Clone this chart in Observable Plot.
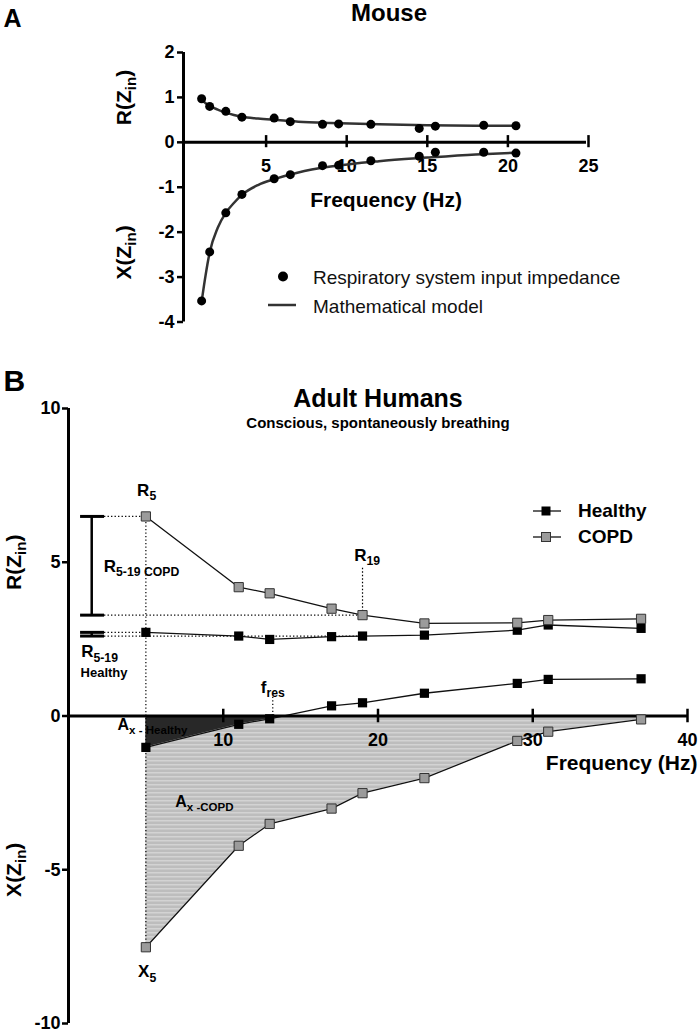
<!DOCTYPE html>
<html><head><meta charset="utf-8">
<script src="https://cdn.jsdelivr.net/npm/d3@7"></script>
<script src="https://cdn.jsdelivr.net/npm/@observablehq/plot@0.6"></script>
<style>
body{margin:0;background:#fff;width:700px;height:1033px;position:relative;overflow:hidden;font-family:"Liberation Sans",Arial,sans-serif}
#a{position:absolute;left:0;top:0}
#b{position:absolute;left:0;top:340px}
svg{overflow:visible}
</style></head><body>
<div id="a"></div><div id="b"></div>
<script>
// ---------- Panel A: Mouse ----------
const mouseFreq = [1, 1.5, 2.5, 3.5, 5.5, 6.5, 8.5, 9.5, 11.5, 14.5, 15.5, 18.5, 20.5];
const mouseR    = [0.97, 0.80, 0.69, 0.56, 0.54, 0.46, 0.40, 0.41, 0.40, 0.31, 0.36, 0.38, 0.37];
const mouseX    = [-3.53, -2.44, -1.57, -1.16, -0.81, -0.72, -0.52, -0.51, -0.41, -0.31, -0.22, -0.22, -0.24];
const modelFreq = [1, 1.25, 1.5, 2, 2.5, 3, 3.5, 4.5, 5.5, 7, 9, 12, 15, 18, 20.5];
const modelR    = [0.95, 0.87, 0.81, 0.73, 0.66, 0.61, 0.57, 0.53, 0.50, 0.46, 0.43, 0.40, 0.38, 0.37, 0.37];
const modelX    = [-3.55, -2.95, -2.45, -1.90, -1.57, -1.35, -1.17, -0.95, -0.82, -0.67, -0.54, -0.42, -0.34, -0.27, -0.23];
const xTicksA = [5, 10, 15, 20, 25];
const yTicksA = [-4, -3, -2, -1, 0, 1, 2];

// ---------- Panel B: Adult humans ----------
const humanFreq = [5, 11, 13, 17, 19, 23, 29, 31, 37];
const copdR     = [6.49, 4.19, 3.99, 3.49, 3.28, 3.01, 3.03, 3.12, 3.16];
const healthyR  = [2.72, 2.60, 2.49, 2.58, 2.60, 2.63, 2.79, 2.96, 2.85];
const healthyX  = [-1.02, -0.27, -0.09, 0.33, 0.43, 0.74, 1.06, 1.19, 1.21];
const copdX     = [-7.52, -4.22, -3.51, -3.01, -2.51, -2.02, -0.81, -0.51, -0.11];
const fres = 13.2;
const xTicksB = [10, 20, 30, 40];
const yTicksB = [-10, -5, 0, 5, 10];

const FONT = '"Liberation Sans", Arial, sans-serif';

const mouse = mouseFreq.map((f, i) => ({f, r: mouseR[i], x: mouseX[i]}));
const model = modelFreq.map((f, i) => ({f, r: modelR[i], x: modelX[i]}));
const human = humanFreq.map((f, i) => ({f, copdR: copdR[i], healthyR: healthyR[i], healthyX: healthyX[i], copdX: copdX[i]}));

// healthy reactance below zero (area up to the zero crossing)
const healthyNeg = [];
for (let i = 0; i < human.length; i++) {
  const d = human[i];
  if (d.healthyX <= 0) healthyNeg.push({f: d.f, x: d.healthyX});
  else {
    const p = healthyNeg[healthyNeg.length - 1];
    healthyNeg.push({f: p.f + (0 - p.x) * (d.f - p.f) / (d.healthyX - p.x), x: 0});
    break;
  }
}

function subscripts(svg, scale = 0.72, shift = 0.25) {
  svg.querySelectorAll("text").forEach(t => {
    const s = t.textContent;
    if (!s.includes("_{")) return;
    const fs = parseFloat(getComputedStyle(t).fontSize);
    const parts = [];
    const re = /_\{([^}]*)\}/g;
    let last = 0, m;
    while ((m = re.exec(s))) {
      if (m.index > last) parts.push({t: s.slice(last, m.index), sub: false});
      parts.push({t: m[1], sub: true});
      last = re.lastIndex;
    }
    if (last < s.length) parts.push({t: s.slice(last), sub: false});
    while (t.firstChild) t.removeChild(t.firstChild);
    let inSub = false;
    const ns = "http://www.w3.org/2000/svg";
    for (const p of parts) {
      const ts = document.createElementNS(ns, "tspan");
      ts.textContent = p.t;
      if (p.sub) {
        ts.setAttribute("font-size", fs * scale);
        if (!inSub) ts.setAttribute("dy", fs * shift);
        inSub = true;
      } else {
        if (inSub) ts.setAttribute("dy", -fs * shift);
        inSub = false;
      }
      t.appendChild(ts);
    }
  });
}

// ---------- Plot A ----------
const plotA = Plot.plot({
  width: 700, height: 340,
  marginLeft: 185, marginRight: 112, marginTop: 52, marginBottom: 18.5,
  style: {fontFamily: FONT, color: "#000", background: "transparent"},
  x: {domain: [0, 25], axis: null},
  y: {domain: [-4, 2], axis: null},
  marks: [
    Plot.axisY({ticks: yTicksA, tickFormat: d => String(d), tickSize: 6, tickPadding: 3, strokeWidth: 2.5,
      fontSize: 18, fontWeight: "bold", label: null, dx: -2}),
    Plot.ruleX([0], {y1: -4, y2: 2, strokeWidth: 3, dx: -2}),
    Plot.ruleY([0], {x1: 0, x2: 25, strokeWidth: 3, dx: -2}),
    Plot.ruleX(xTicksA, {x: d => d, y1: -0.12, y2: 0.15, strokeWidth: 2.5}),
    Plot.text(xTicksA, {x: d => d, y: 0, dy: 24, text: d => String(d), fontSize: 18, fontWeight: "bold"}),
    Plot.line(model, {x: "f", y: "r", curve: "monotone-x", stroke: "#333", strokeWidth: 2.5}),
    Plot.line(model, {x: "f", y: "x", curve: "monotone-x", stroke: "#333", strokeWidth: 2.5}),
    Plot.dot(mouse, {x: "f", y: "r", r: 4.5, fill: "#000"}),
    Plot.dot(mouse, {x: "f", y: "x", r: 4.5, fill: "#000"}),
    Plot.text(["Frequency (Hz)"], {x: 12.44, y: 0, dy: 58, text: d => d, fontSize: 21, fontWeight: "bold"}),
    Plot.text(["R(Z_{in})"], {x: 0, y: 1, dx: -61, rotate: -90, text: d => d, fontSize: 21, fontWeight: "bold"}),
    Plot.text(["X(Z_{in})"], {x: 0, y: -2.45, dx: -61, rotate: -90, text: d => d, fontSize: 21, fontWeight: "bold"}),
    Plot.text(["Mouse"], {frameAnchor: "top", dx: 2, dy: -31.3, lineAnchor: "bottom", text: d => d, fontSize: 24, fontWeight: "bold"}),
    Plot.text(["A"], {frameAnchor: "top-left", dx: -182, dy: -26, lineAnchor: "bottom", textAnchor: "start", text: d => d, fontSize: 25, fontWeight: "bold"})
  ]
});
document.getElementById("a").appendChild(plotA);
subscripts(plotA);
{
  const g = d3.select(plotA).append("g").attr("font-family", FONT).attr("text-anchor", "start");
  g.append("circle").attr("cx", 283).attr("cy", 276.5).attr("r", 5).attr("fill", "#000");
  g.append("text").attr("x", 313).attr("y", 284).attr("font-size", 19).attr("fill", "#111").text("Respiratory system input impedance");
  g.append("line").attr("x1", 268).attr("x2", 296).attr("y1", 305).attr("y2", 305).attr("stroke", "#333").attr("stroke-width", 2.5);
  g.append("text").attr("x", 313).attr("y", 313).attr("font-size", 19).attr("fill", "#111").text("Mathematical model");
}

// ---------- Plot B ----------
const dotted = {stroke: "#000", strokeWidth: 1.2, strokeDasharray: "1.3,2.2"};
const capX1 = 0.78, capX2 = 2.33, beamX = 1.5;
const i19 = humanFreq.indexOf(19);
const hLines = [
  {y: copdR[0], x2: 5}, {y: copdR[i19], x2: 19},
  {y: healthyR[0], x2: 5}, {y: healthyR[i19], x2: 19}
];
const plotB = Plot.plot({
  width: 700, height: 693,
  marginLeft: 68, marginRight: 13, marginTop: 68, marginBottom: 10,
  style: {fontFamily: FONT, color: "#000", background: "transparent"},
  x: {domain: [0, 40], axis: null},
  y: {domain: [-10, 10], axis: null},
  marks: [
    Plot.areaY(human, {x: "f", y1: 0, y2: "copdX", fill: "url(#stripes)"}),
    Plot.areaY(healthyNeg, {x: "f", y1: 0, y2: "x", fill: "#282828"}),
    Plot.ruleY(hLines, {y: "y", x1: capX2, x2: "x2", ...dotted}),
    Plot.ruleX([5], {y1: copdX[0], y2: copdR[0], ...dotted}),
    Plot.ruleX([19], {y1: copdR[i19], y2: 4.85, ...dotted}),
    Plot.ruleX([fres], {y1: 0, y2: 0.68, ...dotted}),
    Plot.ruleX([beamX], {y1: copdR[i19], y2: copdR[0], strokeWidth: 2.5}),
    Plot.ruleY([copdR[0], copdR[i19]], {x1: capX1, x2: capX2, strokeWidth: 3}),
    Plot.ruleX([beamX], {y1: healthyR[i19], y2: healthyR[0], strokeWidth: 2.5}),
    Plot.ruleY([healthyR[0], healthyR[i19]], {x1: capX1, x2: capX2, strokeWidth: 3}),
    Plot.line(human, {x: "f", y: "copdR", stroke: "#111", strokeWidth: 1.3}),
    Plot.line(human, {x: "f", y: "healthyR", stroke: "#111", strokeWidth: 1.3}),
    Plot.line(human, {x: "f", y: "healthyX", stroke: "#111", strokeWidth: 1.3}),
    Plot.line(human, {x: "f", y: "copdX", stroke: "#111", strokeWidth: 1.3}),
    Plot.axisY({ticks: yTicksB, tickFormat: d => String(d), tickSize: 6, tickPadding: 2, strokeWidth: 2.5,
      fontSize: 18, fontWeight: "bold", label: null}),
    Plot.ruleX([0], {y1: -10, y2: 10, strokeWidth: 3}),
    Plot.ruleY([0], {x1: 0, x2: 40, strokeWidth: 3}),
    Plot.ruleX(xTicksB, {x: d => d, y1: -0.22, y2: 0.22, strokeWidth: 2.5}),
    Plot.text(xTicksB, {x: d => d, y: 0, dy: 24, text: d => String(d), fontSize: 18, fontWeight: "bold"}),
    Plot.text(["Frequency (Hz)"], {x: 40, y: 0, dx: 10, dy: 54, lineAnchor: "bottom", textAnchor: "end", text: d => d, fontSize: 21, fontWeight: "bold"}),
    Plot.dot(human, {x: "f", y: "healthyR", symbol: "square", r: 5.2, fill: "#000"}),
    Plot.dot(human, {x: "f", y: "healthyX", symbol: "square", r: 5.2, fill: "#000"}),
    Plot.dot(human, {x: "f", y: "copdR", symbol: "square", r: 5.2, fill: "#9b9b9b", stroke: "#333", strokeWidth: 1}),
    Plot.dot(human, {x: "f", y: "copdX", symbol: "square", r: 5.2, fill: "#9b9b9b", stroke: "#333", strokeWidth: 1}),
    // annotation labels
    Plot.text(["R_{5}"], {x: 5.05, y: 7.16, lineAnchor: "bottom", text: d => d, fontSize: 17, fontWeight: "bold"}),
    Plot.text(["R_{19}"], {x: 19.3, y: 5.05, lineAnchor: "bottom", text: d => d, fontSize: 17, fontWeight: "bold"}),
    Plot.text(["R_{5-19 COPD}"], {x: 2.28, y: 4.69, lineAnchor: "bottom", textAnchor: "start", text: d => d, fontSize: 17, fontWeight: "bold"}),
    Plot.text(["R_{5-19}"], {x: 0.82, y: 1.91, lineAnchor: "bottom", textAnchor: "start", text: d => d, fontSize: 17, fontWeight: "bold"}),
    Plot.text(["Healthy"], {x: 0.78, y: 1.26, lineAnchor: "bottom", textAnchor: "start", text: d => d, fontSize: 13, fontWeight: "bold"}),
    Plot.text(["f_{res}"], {x: fres, y: 0.74, lineAnchor: "bottom", text: d => d, fontSize: 17, fontWeight: "bold"}),
    Plot.text(["A_{x - Healthy}"], {x: 3.17, y: -0.455, lineAnchor: "bottom", textAnchor: "start", text: d => d, fontSize: 16, fontWeight: "bold"}),
    Plot.text(["A_{x -COPD}"], {x: 6.9, y: -2.95, lineAnchor: "bottom", textAnchor: "start", text: d => d, fontSize: 16, fontWeight: "bold"}),
    Plot.text(["X_{5}"], {x: 5.08, y: -8.5, lineAnchor: "bottom", text: d => d, fontSize: 17, fontWeight: "bold"}),
    // axis labels and titles
    Plot.text(["R(Z_{in})"], {x: 0, y: 5, dx: -54, rotate: -90, text: d => d, fontSize: 21, fontWeight: "bold"}),
    Plot.text(["X(Z_{in})"], {x: 0, y: -5, dx: -54, rotate: -90, text: d => d, fontSize: 21, fontWeight: "bold"}),
    Plot.text(["Adult Humans"], {frameAnchor: "top", dy: -1.3, lineAnchor: "bottom", text: d => d, fontSize: 25, fontWeight: "bold"}),
    Plot.text(["Conscious, spontaneously breathing"], {frameAnchor: "top", dy: 19, lineAnchor: "bottom", text: d => d, fontSize: 15, fontWeight: "bold"}),
    Plot.text(["B"], {frameAnchor: "top-left", dx: -65, dy: -18, lineAnchor: "bottom", textAnchor: "start", text: d => d, fontSize: 30, fontWeight: "bold"})
  ]
});
document.getElementById("b").appendChild(plotB);
subscripts(plotB);
{
  const svg = d3.select(plotB);
  const defs = svg.insert("defs", ":first-child");
  const pat = defs.append("pattern").attr("id", "stripes").attr("patternUnits", "userSpaceOnUse")
    .attr("width", 8).attr("height", 4);
  pat.append("rect").attr("width", 8).attr("height", 4).attr("fill", "#bdbdbd");
  pat.append("rect").attr("width", 8).attr("height", 1.5).attr("fill", "#d3d3d3");

  const g = svg.append("g").attr("font-family", FONT).attr("text-anchor", "start");
  const items = [{label: "Healthy", fill: "#000", y: 171}, {label: "COPD", fill: "#9b9b9b", y: 197}];
  for (const it of items) {
    g.append("line").attr("x1", 533).attr("x2", 561).attr("y1", it.y).attr("y2", it.y).attr("stroke", "#111").attr("stroke-width", 1.3);
    g.append("rect").attr("x", 541.5).attr("y", it.y - 4.5).attr("width", 9).attr("height", 9)
      .attr("fill", it.fill).attr("stroke", it.fill === "#000" ? "none" : "#333");
    g.append("text").attr("x", 578).attr("y", it.y + 6.3).attr("font-size", 19).attr("font-weight", "bold").text(it.label);
  }
}
</script>
</body></html>
